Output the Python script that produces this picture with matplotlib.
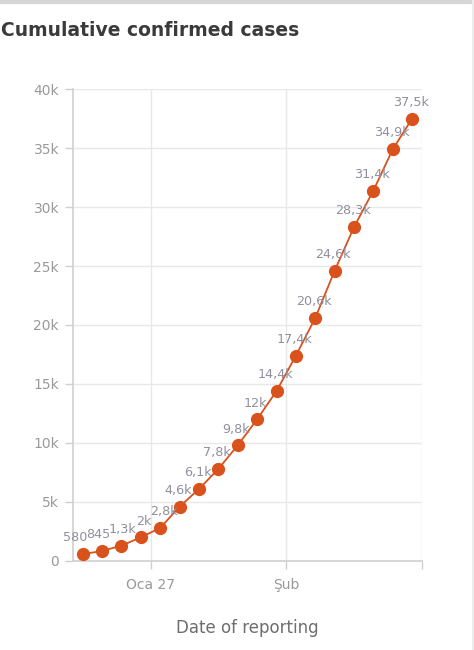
import pandas as pd
import matplotlib.pyplot as plt
from matplotlib.ticker import FuncFormatter

# cumulative confirmed cases, one value per reporting day
dates = pd.date_range(start='2020-01-23 12:00', periods=18, freq='D')
cases = [580, 845, 1300, 2000, 2800, 4600, 6100, 7800, 9800, 12000,
         14400, 17400, 20600, 24600, 28300, 31400, 34900, 37500]
tick_dates = ['2020-01-27', '2020-02-03', '2020-02-10']
tick_labels = ['Oca 27', 'Şub', '']

plt.rcParams['font.family'] = ['DejaVu Sans']

color = '#d9521c'
grid = '#e8e8e8'
txt = '#9a9a9a'


def short(v):
    if v < 1000:
        return str(int(v))
    s = f'{v / 1000:.1f}'.replace('.', ',')
    if s.endswith(',0'):
        s = s[:-2]
    return s + 'k'


fig = plt.figure(figsize=(4.74, 6.5), dpi=100)
ax = fig.add_axes([0.154, 0.137, 0.736, 0.726])

ax.plot(dates, cases, color=color, lw=1.3, marker='o', ms=8.5,
        mec=color, mfc=color, zorder=3)
# the first few labels sit close together, spread them sideways a little
nudge = [-4.5, -1.5, 2, 3, 3.5] + [0] * (len(cases) - 5)
for d, v, dx in zip(dates, cases, nudge):
    ax.annotate(short(v), (d, v), xytext=(-1 + dx, 7), textcoords='offset points',
                ha='center', va='bottom', fontsize=9.2, color='#8f8f9e', zorder=4)

ax.set_xlim(pd.Timestamp('2020-01-23'), pd.Timestamp('2020-02-10'))
ax.set_ylim(0, 40000)
ax.set_yticks(range(0, 40001, 5000))
ax.yaxis.set_major_formatter(FuncFormatter(lambda v, p: short(v) if v else '0'))
ax.set_xticks([pd.Timestamp(t) for t in tick_dates])
ax.set_xticklabels(tick_labels)

ax.grid(True, color=grid, lw=1)
for s in ['top', 'right']:
    ax.spines[s].set_visible(False)
for s in ['left', 'bottom']:
    ax.spines[s].set_color('#d0d0d0')
    ax.spines[s].set_linewidth(1.2)
ax.tick_params(colors='#d0d0d0', labelcolor=txt, labelsize=10, length=6, width=1)
ax.tick_params(axis='y', pad=4)
ax.tick_params(axis='x', pad=6)
ax.set_xlabel('Date of reporting', fontsize=12, color='#6e6e6e', labelpad=20)

fig.text(0.002, 0.953, 'Cumulative confirmed cases', fontsize=13.5,
         fontweight='bold', color='#3a3a3a', ha='left', va='center')
fig.add_artist(plt.Line2D([0, 1], [0.997, 0.997], color='#d6d6d6', lw=3,
                          transform=fig.transFigure))
fig.add_artist(plt.Line2D([0.997, 0.997], [0, 1], color='#ececec', lw=1.5,
                          transform=fig.transFigure))

fig.savefig('out.png', dpi=100)
